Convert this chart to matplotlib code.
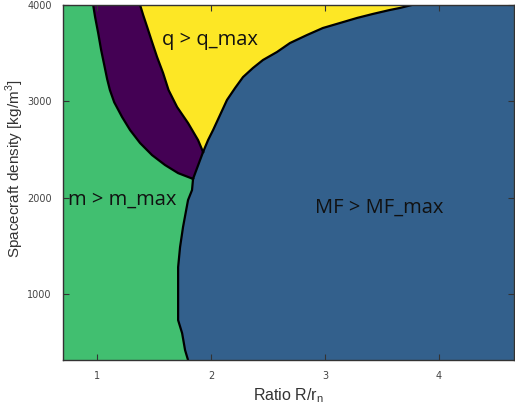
import matplotlib
matplotlib.use("Agg")
import matplotlib.pyplot as plt

# Limites del espacio de diseño
x_lim = (0.70, 4.66)
y_lim = (315, 4000)

# Frontera m (verde / morado), de arriba hasta la unión con MF
m_upper_x = [0.965, 0.982, 1.009, 1.035, 1.066, 1.088, 1.112, 1.150, 1.219, 1.289,
             1.377, 1.482, 1.596, 1.711, 1.842]
m_upper_y = [4000, 3875, 3709, 3533, 3356, 3230, 3117, 2990, 2837, 2702,
             2567, 2442, 2339, 2255, 2195]

# Frontera m / MF (verde / azul), de la unión hasta abajo
m_lower_x = [1.842, 1.833, 1.798, 1.754, 1.728, 1.711, 1.711, 1.746, 1.772, 1.798]
m_lower_y = [2195, 2079, 1975, 1695, 1487, 1279, 729, 594, 418, 315]

# Frontera q (morado / amarillo)
q_x = [1.377, 1.404, 1.439, 1.482, 1.526, 1.579, 1.627, 1.702, 1.798, 1.886, 1.930]
q_y = [4000, 3896, 3772, 3616, 3460, 3294, 3117, 2941, 2775, 2598, 2474]

# Frontera MF (amarillo / azul)
mf_x = [3.763, 3.658, 3.570, 3.421, 3.281, 3.132, 2.982, 2.842, 2.693, 2.579,
        2.456, 2.368, 2.281, 2.211, 2.140, 2.079, 2.018, 1.974, 1.930]
mf_y = [4000, 3969, 3948, 3907, 3865, 3813, 3761, 3688, 3605, 3512,
        3429, 3346, 3252, 3138, 3014, 2858, 2702, 2598, 2474]

labels = ["q > q_max", "m > m_max", "MF > MF_max"]
label_x = [1.57, 0.745, 2.91]
label_y = [3640, 1975, 1900]

c_green = "#41bf70"
c_purple = "#440154"
c_yellow = "#fde725"
c_blue = "#33608c"

fig = plt.figure(figsize=(5.15, 4.05), dpi=100)
ax = fig.add_axes([0.1223, 0.111, 0.8757, 0.8767])
x0, x1 = x_lim
y0, y1 = y_lim

# Regiones
ax.set_facecolor(c_yellow)
green_x = [x0, x0] + m_upper_x + m_lower_x[1:]
green_y = [y0, y1] + m_upper_y + m_lower_y[1:]
ax.fill(green_x, green_y, color=c_green, lw=0)

purple_x = m_upper_x + q_x[::-1]
purple_y = m_upper_y + q_y[::-1]
ax.fill(purple_x, purple_y, color=c_purple, lw=0)

blue_x = mf_x + m_upper_x[-1:] + m_lower_x[1:] + [x1, x1]
blue_y = mf_y + m_upper_y[-1:] + m_lower_y[1:] + [y0, y1]
ax.fill(blue_x, blue_y, color=c_blue, lw=0)

# Contornos
lw = 1.6
for cx, cy in [(m_upper_x, m_upper_y), (m_lower_x, m_lower_y), (q_x, q_y), (mf_x, mf_y)]:
    ax.plot(cx, cy, color="black", lw=lw, solid_joinstyle="round")
ax.plot([q_x[-1], m_upper_x[-1]], [q_y[-1], m_upper_y[-1]], color="black", lw=lw)

for txt, tx, ty in zip(labels, label_x, label_y):
    ax.text(tx, ty, txt, fontsize=14.5, family="Open Sans", color="#111111",
            ha="left", va="center")

ax.set_xlim(x_lim)
ax.set_ylim(y_lim)
ax.set_xticks([1, 2, 3, 4])
ax.set_yticks([1000, 2000, 3000, 4000])
ax.tick_params(direction="in", top=True, right=True, length=4, width=0.8,
               labelsize=7, labelcolor="#444444", color="#333333", pad=8)
for sp in ax.spines.values():
    sp.set_color("#333333")
    sp.set_linewidth(1.0)
    sp.set_zorder(5)

ax.set_xlabel("Ratio R/r$_\\mathregular{n}$", fontsize=11.5, family="Liberation Sans",
              color="#333333", labelpad=4)
ax.set_ylabel("Spacecraft density [kg/m$^\\mathregular{3}$]", fontsize=11,
              family="Liberation Sans", color="#333333")
ax.yaxis.set_label_coords(-0.083, 0.54)

fig.savefig("out.png", dpi=100)
